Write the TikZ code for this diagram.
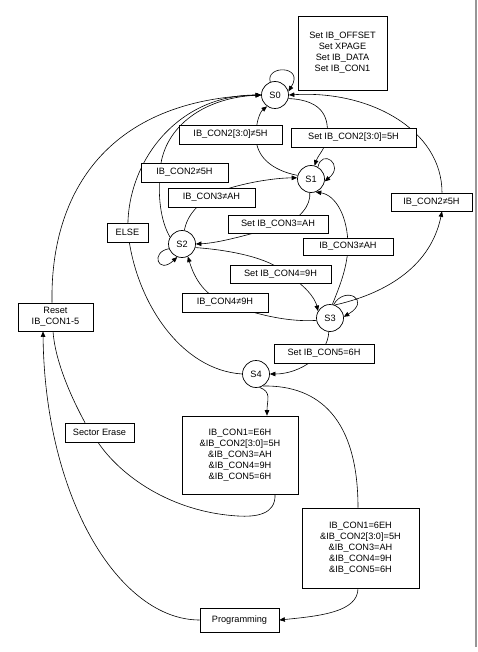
\documentclass[tikz,border=0pt]{standalone}
\usepackage{fontspec}
\setmainfont{Liberation Sans}
\usetikzlibrary{arrows.meta,backgrounds}
\definecolor{pgray}{RGB}{150,150,150}
\begin{document}
\begin{tikzpicture}[x=1pt,y=-1pt,
  every node/.style={font=\fontsize{9.2}{11}\selectfont},
  state/.style={circle,draw,line width=0.7pt,fill=white,minimum size=27pt,inner sep=0pt},
  lbl/.style={draw,line width=0.7pt,fill=white,inner sep=0pt,align=center},
  edge/.style={line width=0.6pt},
  arr/.style={edge,-{Triangle[length=5.5pt,width=4.5pt]}}]
\useasboundingbox (0,0) rectangle (477,652);
\draw[pgray,line width=2pt] (475.5,0) -- (475.5,647);

% states
\node[state] (S0) at (275,95) {S0};
\node[state] (S1) at (311,179) {S1};
\node[state] (S2) at (182,244) {S2};
\node[state] (S3) at (330,318) {S3};
\node[state] (S4) at (256,374) {S4};

% boxes
\node[lbl,minimum width=89pt,minimum height=74pt] (setbox) at (342.5,53) {Set IB\_OFFSET\\Set XPAGE\\Set IB\_DATA\\Set IB\_CON1};
\node[lbl,minimum width=103pt,minimum height=19pt] (lblA) at (230.5,134.5) {IB\_CON2[3:0]≠5H};
\node[lbl,minimum width=125pt,minimum height=19pt] (lblB) at (353.5,137.5) {Set IB\_CON2[3:0]=5H};
\node[lbl,minimum width=87pt,minimum height=19pt] (lblC) at (184.5,172.5) {IB\_CON2≠5H};
\node[lbl,minimum width=87pt,minimum height=19pt] (lblD) at (211.5,197.5) {IB\_CON3≠AH};
\node[lbl,minimum width=100pt,minimum height=18pt] (lblE) at (278,224) {Set IB\_CON3=AH};
\node[lbl,minimum width=90pt,minimum height=17pt] (lblF) at (348,246.5) {IB\_CON3≠AH};
\node[lbl,minimum width=101pt,minimum height=18pt] (lblG) at (280.5,274) {Set IB\_CON4=9H};
\node[lbl,minimum width=86pt,minimum height=19pt] (lblH) at (225,302.5) {IB\_CON4≠9H};
\node[lbl,minimum width=100pt,minimum height=19pt] (lblI) at (324,353.5) {Set IB\_CON5=6H};
\node[lbl,minimum width=81pt,minimum height=18pt] (lblJ) at (431.5,202) {IB\_CON2≠5H};
\node[lbl,minimum width=41pt,minimum height=19pt] (lblElse) at (127.5,232.5) {ELSE};
\node[lbl,minimum width=75pt,minimum height=28pt] (reset) at (55.5,317) {Reset\\IB\_CON1-5};
\node[lbl,minimum width=69pt,minimum height=19pt] (sector) at (99.5,432.5) {Sector Erase};
\node[lbl,minimum width=116pt,minimum height=78pt] (box1) at (240,455) {IB\_CON1=E6H\\\&IB\_CON2[3:0]=5H\\\&IB\_CON3=AH\\\&IB\_CON4=9H\\\&IB\_CON5=6H};
\node[lbl,minimum width=117pt,minimum height=80pt] (box2) at (360.5,548) {IB\_CON1=6EH\\\&IB\_CON2[3:0]=5H\\\&IB\_CON3=AH\\\&IB\_CON4=9H\\\&IB\_CON5=6H};
\node[lbl,minimum width=79pt,minimum height=24pt] (prog) at (239.5,620) {Programming};

\begin{scope}[on background layer]
% S0 self loop
\draw[arr] (S0.110) .. controls (265,65) and (305,65) .. (S0.15);
% S0 -> S1
\draw[arr] (S0.-15) .. controls (325,100) and (329,120) .. (327,137) .. controls (325,150) and (318,155) .. (S1.75);
% S1 -> S0
\draw[arr] (S1.165) .. controls (270,170) and (255,155) .. (256,135) .. controls (256,122) and (260,112) .. (S0.235);
% S1 self loop
\draw[arr] (S1.60) .. controls (322,148) and (345,165) .. (S1.-10);
% S1 -> S2
\draw[arr] (S1.-95) .. controls (311,205) and (300,220) .. (280,226) .. controls (250,234) and (220,243) .. (S2.0);
% S2 -> S1
\draw[arr] (S2.80) .. controls (187,215) and (200,198) .. (230,188) .. controls (250,182) and (275,178) .. (S1.175);
% S2 -> S0
\draw[arr] (S2.150) .. controls (160,220) and (158,195) .. (160,172) .. controls (162,130) and (200,98) .. (S0.180);
% Reset -> S0
\draw[arr] ([xshift=-3.5pt]reset.north) .. controls (50,190) and (110,100) .. (S0.180);
% S4 -> S0 (ELSE)
\draw[arr] (S4.180) .. controls (180,370) and (135,300) .. (128,232) .. controls (125,165) and (175,95) .. (S0.180);
% S2 self loop
\draw[arr] (S2.200) .. controls (150,252) and (158,275) .. (S2.-110);
% S2 -> S3
\draw[arr] (S2.-15) .. controls (230,250) and (270,258) .. (285,273) .. controls (305,285) and (315,298) .. (S3.150);
% S3 -> S2
\draw[arr] (S3.190) .. controls (290,322) and (260,316) .. (225,303) .. controls (205,295) and (195,280) .. (S2.-65);
% S3 -> S1
\draw[arr] (S3.80) .. controls (338,290) and (347,270) .. (348,247) .. controls (348,215) and (335,195) .. (S1.-70);
% S3 self loop
\draw[arr] (S3.75) .. controls (345,285) and (372,300) .. (S3.5);
% S3 -> lblJ -> S0
\draw[arr] (S3.70) .. controls (380,295) and (430,270) .. ([xshift=10.5pt]lblJ.south);
\draw[arr] ([xshift=10.5pt]lblJ.north) .. controls (442,130) and (370,90) .. (S0.0);
% S3 -> S4
\draw[arr] (S3.-95) .. controls (328,355) and (300,374) .. (S4.0);
% S4 -> box1
\draw[arr] (S4.-75) .. controls (272,392) and (267,400) .. ([xshift=27pt]box1.north);
% S4 -> box2
\draw[edge] (S4.-60) .. controls (320,385) and (358,420) .. ([xshift=-2.5pt]box2.north);
% box2 -> prog
\draw[arr] ([xshift=-2.5pt]box2.south) .. controls (358,612) and (320,616) .. (prog.east);
% box1 -> sector
\draw[edge] ([xshift=35pt]box1.south) .. controls (276,515) and (255,517) .. (238,516) .. controls (170,512) and (120,475) .. ([xshift=-1.5pt]sector.south);
% sector -> reset
\draw[edge] ([xshift=-14.5pt]sector.north) .. controls (70,395) and (55,360) .. ([xshift=-2.5pt]reset.south);
% prog -> reset
\draw[arr] (prog.west) .. controls (120,620) and (45,500) .. ([xshift=-12.5pt]reset.south);
\end{scope}
\end{tikzpicture}
\end{document}
